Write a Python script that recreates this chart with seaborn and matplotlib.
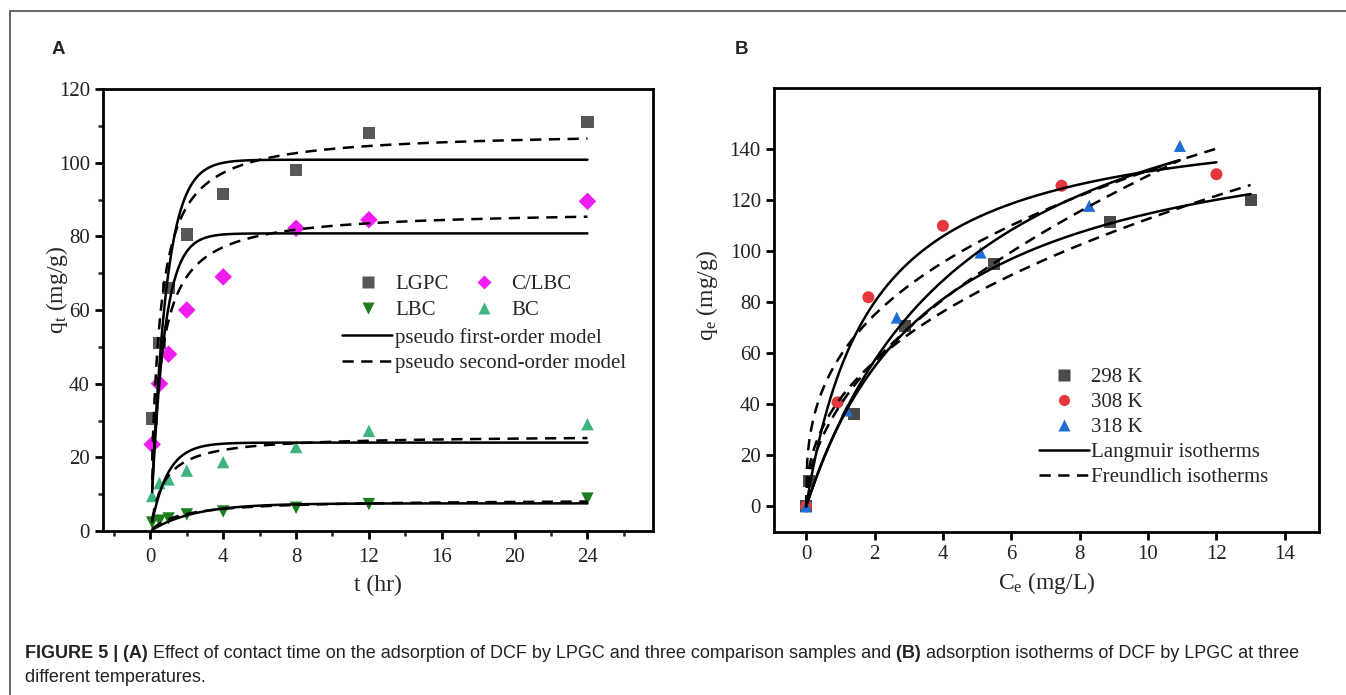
import numpy as np
import pandas as pd
import seaborn as sns
import matplotlib.pyplot as plt
from matplotlib.lines import Line2D
from matplotlib.patches import Rectangle
from matplotlib.ticker import MultipleLocator, FixedLocator
from matplotlib.offsetbox import TextArea, HPacker, AnchoredOffsetbox

# ---- panel A: effect of contact time ----
t_hr = [0.1, 0.5, 1, 2, 4, 8, 12, 24]
q_lgpc = [30.5, 51, 66, 80.5, 91.5, 98, 108, 111]
q_clbc = [23.5, 40, 48, 60, 69, 82.2, 84.5, 89.5]
q_lbc = [2.3, 2.8, 3.4, 4.5, 5.3, 6.3, 7.3, 8.8]
q_bc = [9.5, 13, 14, 16.4, 18.7, 22.8, 27.2, 29]
samples = ['LGPC', 'C/LBC', 'LBC', 'BC']

# kinetic model parameters
pfo_qe = [100.8, 80.8, 7.5, 24.0]
pfo_k1 = [1.2, 1.4, 0.42, 1.1]
pso_qe = [108.6, 87.2, 8.56, 26.0]
pso_k2 = [0.0197, 0.0218, 0.069, 0.0527]

# ---- panel B: isotherms ----
ce_298 = [0, 0.08, 1.4, 2.9, 5.5, 8.9, 13.0]
qe_298 = [0, 10, 36.4, 70.6, 95.1, 111.5, 120]
ce_308 = [0, 0.92, 1.82, 4.0, 7.47, 12.0]
qe_308 = [0, 40.8, 82, 110, 125.7, 130.2]
ce_318 = [0, 1.19, 2.65, 5.1, 8.28, 10.93]
qe_318 = [0, 37.6, 74, 99.5, 117.8, 141.3]
temps = ['298 K', '308 K', '318 K']

lang_qm = [158, 156.3, 196]
lang_kl = [0.265, 0.525, 0.206]
freu_kf = [42.3, 59.0, 39.8]
freu_n = [2.35, 2.87, 1.95]

col_a = {'LGPC': '#575757', 'C/LBC': '#f01cf0', 'LBC': '#1b7d1b', 'BC': '#3fb47f'}
mk_a = {'LGPC': 's', 'C/LBC': 'D', 'LBC': 'v', 'BC': '^'}
col_b = {'298 K': '#4a4a4a', '308 K': '#e5383e', '318 K': '#1f6ed4'}
mk_b = {'298 K': 's', '308 K': 'o', '318 K': '^'}

sns.set_style("ticks")
plt.rcParams['font.family'] = ['Liberation Serif', 'DejaVu Serif']
plt.rcParams['mathtext.fontset'] = 'custom'
plt.rcParams['mathtext.rm'] = 'Liberation Serif'
plt.rcParams['mathtext.it'] = 'Liberation Serif:italic'

fig = plt.figure(figsize=(13.46, 6.95), dpi=100)
W, H = 1346, 695
axA = fig.add_axes([103 / W, 1 - 531 / H, 550 / W, 442 / H])
axB = fig.add_axes([774 / W, 1 - 532 / H, 545 / W, 444 / H])

# ---------- A ----------
dfA = pd.DataFrame({'t': t_hr * 4,
                    'q': q_lgpc + q_clbc + q_lbc + q_bc,
                    'sample': np.repeat(samples, len(t_hr))})
sns.scatterplot(data=dfA, x='t', y='q', hue='sample', style='sample',
                palette=col_a, markers=mk_a, s=80, edgecolor='none',
                legend=False, ax=axA, zorder=2)

tt = np.linspace(0.1, 24, 400)
rows = []
for i, s in enumerate(samples):
    q1 = pfo_qe[i] * (1 - np.exp(-pfo_k1[i] * tt))
    q2 = pso_k2[i] * pso_qe[i] ** 2 * tt / (1 + pso_k2[i] * pso_qe[i] * tt)
    rows.append(pd.DataFrame({'t': tt, 'q': q1, 'sample': s, 'model': 'pfo'}))
    rows.append(pd.DataFrame({'t': tt, 'q': q2, 'sample': s, 'model': 'pso'}))
curvesA = pd.concat(rows, ignore_index=True)
sns.lineplot(data=curvesA, x='t', y='q', units='sample', style='model',
             estimator=None, color='black', lw=1.8, sort=False,
             dashes={'pfo': '', 'pso': (4.5, 3)}, legend=False, ax=axA, zorder=3)

axA.set_xlim(-2.6, 27.6)
axA.set_ylim(0, 120)
axA.xaxis.set_major_locator(FixedLocator([0, 4, 8, 12, 16, 20, 24]))
axA.xaxis.set_minor_locator(MultipleLocator(2))
axA.yaxis.set_major_locator(MultipleLocator(20))
axA.yaxis.set_minor_locator(MultipleLocator(10))
axA.set_xlabel('t (hr)', fontsize=17, labelpad=6)
axA.set_ylabel(r'q$_{\rm t}$ (mg/g)', fontsize=17)
axA.yaxis.set_label_coords(-0.06, 0.545)

# legend rows: LGPC, C/LBC / LBC, BC (ncol fills column-wise)
leg_order = ['LGPC', 'LBC', 'C/LBC', 'BC']
hA1 = [Line2D([], [], ls='none', marker=mk_a[s], color=col_a[s], ms=8 if s != 'C/LBC' else 7.5,
              mec='none', label=s) for s in leg_order]
legA1 = axA.legend(handles=hA1, ncol=2, loc='upper left', bbox_to_anchor=(0.459, 0.58),
                   frameon=False, fontsize=15, handlelength=1.2, handletextpad=0.7,
                   columnspacing=1.1, borderaxespad=0, borderpad=0, labelspacing=0.3)
axA.add_artist(legA1)
hA2 = [Line2D([], [], color='black', lw=1.8, label='pseudo first-order model'),
       Line2D([], [], color='black', lw=1.8, dashes=(4.5, 3), label='pseudo second-order model')]
axA.legend(handles=hA2, loc='upper left', bbox_to_anchor=(0.435, 0.46), frameon=False,
           fontsize=15, handlelength=2.4, handletextpad=0.15, borderaxespad=0,
           borderpad=0, labelspacing=0.3)

# ---------- B ----------
dfB = pd.DataFrame({'ce': ce_298 + ce_308 + ce_318,
                    'qe': qe_298 + qe_308 + qe_318,
                    'temp': ['298 K'] * len(ce_298) + ['308 K'] * len(ce_308) + ['318 K'] * len(ce_318)})
sns.scatterplot(data=dfB, x='ce', y='qe', hue='temp', style='temp',
                palette=col_b, markers=mk_b, s=75, edgecolor='none',
                legend=False, ax=axB, zorder=2)

ends = [max(ce_298), max(ce_308), max(ce_318)]
rows = []
for i, tp in enumerate(temps):
    cc = np.linspace(0, ends[i], 400)
    ql = lang_qm[i] * lang_kl[i] * cc / (1 + lang_kl[i] * cc)
    qf = freu_kf[i] * cc ** (1 / freu_n[i])
    rows.append(pd.DataFrame({'ce': cc, 'qe': ql, 'temp': tp, 'model': 'L'}))
    rows.append(pd.DataFrame({'ce': cc, 'qe': qf, 'temp': tp, 'model': 'F'}))
curvesB = pd.concat(rows, ignore_index=True)
sns.lineplot(data=curvesB, x='ce', y='qe', units='temp', style='model',
             estimator=None, color='black', lw=1.8, sort=False,
             dashes={'L': '', 'F': (4.5, 3)}, legend=False, ax=axB, zorder=3)

axB.set_xlim(-0.94, 15.0)
axB.set_ylim(-10, 164)
axB.xaxis.set_major_locator(MultipleLocator(2))
axB.yaxis.set_major_locator(FixedLocator([0, 20, 40, 60, 80, 100, 120, 140]))
axB.set_xlabel(r'C$_{\rm e}$ (mg/L)', fontsize=17)
axB.set_ylabel(r'q$_{\rm e}$ (mg/g)', fontsize=17)
axB.yaxis.set_label_coords(-0.099, 0.533)

hB = [Line2D([], [], ls='none', marker=mk_b[t], color=col_b[t], ms=8, mec='none', label=t)
      for t in temps]
hB += [Line2D([], [], color='black', lw=1.8, label='Langmuir isotherms'),
       Line2D([], [], color='black', lw=1.8, dashes=(4.5, 3), label='Freundlich isotherms')]
axB.legend(handles=hB, loc='upper left', bbox_to_anchor=(0.487, 0.37), frameon=False,
           fontsize=15, handlelength=2.4, handletextpad=0.1, borderaxespad=0,
           borderpad=0, labelspacing=0.26)

for ax in (axA, axB):
    for sp in ax.spines.values():
        sp.set_linewidth(2)
        sp.set_color('black')
    ax.tick_params(which='major', direction='out', length=6, width=2,
                   labelsize=15, colors='black', labelcolor='#222222')
    ax.tick_params(which='minor', direction='out', length=3.5, width=1.8)
    ax.tick_params(top=False, right=False)
axA.tick_params(axis='x', which='major', pad=6)

# panel letters
fig.text(52 / W, 1 - 49 / H, 'A', family='Liberation Sans', weight='bold',
         fontsize=13.5, va='center', ha='left')
fig.text(735 / W, 1 - 49 / H, 'B', family='Liberation Sans', weight='bold',
         fontsize=13.5, va='center', ha='left')

# caption
bold = dict(family='Liberation Sans', weight='bold', size=13, color='#222222')
norm = dict(family='Liberation Sans', weight='normal', size=13, color='#222222')
parts = [('FIGURE 5 |', bold), (' (A)', bold),
         (' Effect of contact time on the adsorption of DCF by LPGC and three comparison samples and', norm),
         (' (B)', bold), (' adsorption isotherms of DCF by LPGC at three', norm)]
line1 = HPacker(children=[TextArea(t, textprops=p) for t, p in parts],
                align='baseline', pad=0, sep=0)
fig.add_artist(AnchoredOffsetbox(loc='center left', child=line1, pad=0, borderpad=0,
                                 frameon=False, bbox_to_anchor=(25 / W, 1 - 654 / H),
                                 bbox_transform=fig.transFigure))
fig.text(25 / W, 1 - 678 / H, 'different temperatures.', va='center', ha='left', **norm)

# thin frame around the figure panel
fig.add_artist(Rectangle((10 / W, -0.05), 1.2, 1 - 11 / H + 0.05, transform=fig.transFigure,
                         fill=False, edgecolor='#5a5a5a', lw=1.3, clip_on=False))

fig.savefig('out.png', dpi=100)
